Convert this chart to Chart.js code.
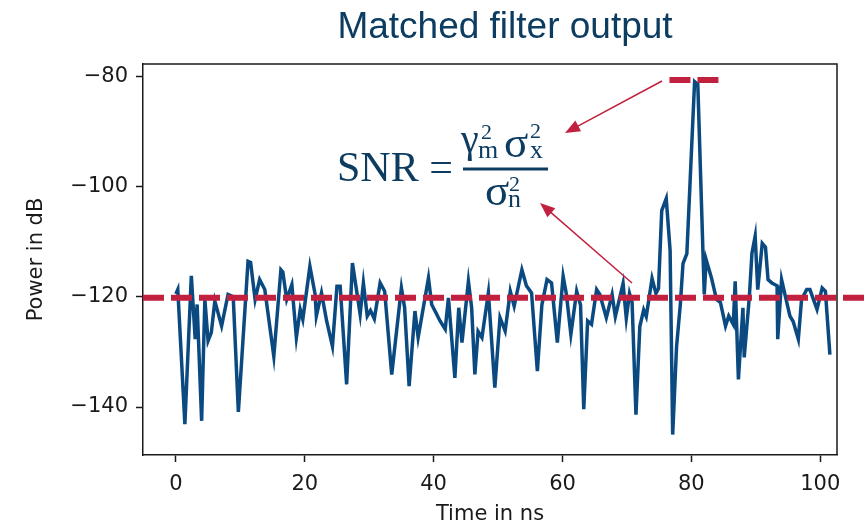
<!DOCTYPE html>
<html>
<head>
<meta charset="utf-8">
<script src="https://cdn.jsdelivr.net/npm/chart.js@4"></script>
<style>
html, body { margin: 0; padding: 0; background: #fff; }
#wrap { width: 867px; height: 527px; position: relative; }
</style>
</head>
<body>
<div id="wrap"><canvas id="chart"></canvas></div>
<script>
// matched filter output (time in ns, power in dB)
const times = [
    0.0, 0.3, 1.4, 2.4, 3.0, 3.3, 4.0, 4.5, 5.0, 5.5, 6.05, 7.1, 8.1, 8.9, 9.7,
    11.2, 11.6, 12.3, 13.0, 13.8, 15.2, 16.3, 16.6, 17.2, 18.0, 18.7, 19.3, 19.7, 20.8,
    21.6, 21.8, 22.6, 23.4, 24.3, 25.0, 25.5, 26.5, 27.4, 28.6, 29.1, 29.7, 30.2, 30.8,
    31.7, 32.4, 33.5, 35.0, 35.5, 36.2, 37.1, 37.6, 39.2, 39.7, 40.4, 41.0, 41.8, 42.3,
    43.3, 43.9, 44.4, 45.4, 45.9, 46.4, 46.9, 47.5, 48.5, 49.5, 50.3, 51.1, 51.9, 52.5,
    53.7, 54.4, 55.2, 56.1, 56.8, 57.6, 58.3, 59.2, 60.1, 60.6, 61.3, 62.2, 62.8, 63.3,
    63.9, 64.5, 65.3, 65.8, 66.8, 67.7, 68.2, 69.4, 69.9, 70.4, 70.8, 71.4, 72.0, 72.6,
    73.0, 73.9, 74.5, 74.9, 75.4, 76.1, 76.7, 77.1, 77.7, 78.3, 78.7, 79.3, 80.5, 81.0,
    82.0, 82.3, 83.1, 83.9, 84.5, 85.3, 85.8, 86.5, 86.8, 87.3, 88.0, 88.2, 89.0, 89.4,
    89.9, 90.3, 91.0, 91.5, 91.9, 92.5, 93.3, 93.4, 94.0, 94.5, 95.3, 95.8, 96.6, 97.1,
    97.9, 98.4, 99.5, 100.3, 100.8, 101.5
];
const power = [
    -119.5, -118.7, -143.1, -116.2, -127.7, -121.4, -142.5, -120.5, -128.0, -126.5, -120.8, -125.3, -119.6, -120.0, -140.9,
    -113.6, -113.8, -120.5, -116.9, -118.7, -130.8, -115.1, -115.5, -120.5, -117.8, -127.4, -122.3, -124.1, -114.5,
    -119.5, -123.5, -119.3, -124.4, -129.0, -118.1, -118.1, -135.9, -113.9, -123.2, -117.5, -123.5, -122.5, -124.0,
    -117.5, -119.0, -134.1, -118.4, -122.0, -136.2, -122.6, -127.4, -116.6, -121.4, -123.0, -124.4, -125.9, -120.2,
    -134.7, -122.0, -128.3, -117.2, -122.0, -134.1, -126.3, -127.4, -119.3, -136.5, -123.8, -126.2, -119.0, -121.7,
    -115.1, -118.0, -119.3, -133.5, -121.5, -116.9, -117.5, -128.3, -116.3, -119.5, -126.8, -119.0, -121.5, -140.4,
    -124.4, -125.0, -118.7, -119.6, -123.8, -119.6, -123.6, -117.6, -123.9, -119.4, -121.0, -141.4, -125.4, -122.4,
    -123.6, -116.7, -119.4, -118.5, -104.4, -102.2, -111.6, -145.0, -129.1, -121.2, -114.0, -112.2, -81.0, -81.5,
    -119.6, -113.3, -116.5, -120.5, -121.0, -125.3, -123.5, -125.0, -117.2, -135.0, -122.0, -131.0, -120.0, -112.1,
    -109.0, -118.7, -110.3, -111.0, -116.9, -117.5, -118.0, -127.7, -116.9, -119.5, -123.5, -124.5, -127.7, -120.5,
    -118.7, -118.7, -122.3, -118.4, -119.0, -130.5
];
const xTicks = [0, 20, 40, 60, 80, 100];
const yTicks = [-80, -100, -120, -140];
const noiseLevel = -120.2;   // long red dashed line
const peakLevel = -80.7;     // short red dashed line at the peak
const peakSpan = [76.6, 84.2];

const red = '#c2203f';
const navy = '#0d3c61';

function minusLabel(v) {
    return v < 0 ? '\u2212' + Math.abs(v) : String(v);
}

const overlay = {
    id: 'overlay',
    afterDraw(chart) {
        const ctx = chart.ctx;
        const area = chart.chartArea;
        const xs = chart.scales.x, ys = chart.scales.y;
        ctx.save();

        // top and right frame
        ctx.strokeStyle = '#1a1a1a';
        ctx.lineWidth = 1.5;
        ctx.beginPath();
        ctx.moveTo(area.left, area.top);
        ctx.lineTo(area.right, area.top);
        ctx.lineTo(area.right, area.bottom);
        ctx.stroke();

        // red dashed levels
        ctx.strokeStyle = red;
        ctx.lineWidth = 6;
        ctx.setLineDash([21, 7]);
        let y = ys.getPixelForValue(noiseLevel);
        ctx.beginPath();
        ctx.moveTo(area.left, y);
        ctx.lineTo(chart.width, y);
        ctx.stroke();
        y = ys.getPixelForValue(peakLevel);
        ctx.beginPath();
        ctx.moveTo(xs.getPixelForValue(peakSpan[0]), y);
        ctx.lineTo(xs.getPixelForValue(peakSpan[1]), y);
        ctx.stroke();
        ctx.setLineDash([]);

        // arrows
        drawArrow(ctx, 662, 81, 565, 133);
        drawArrow(ctx, 632, 283, 540, 203);

        // title
        ctx.fillStyle = navy;
        ctx.textAlign = 'center';
        ctx.textBaseline = 'alphabetic';
        ctx.font = '37px "Liberation Sans", Arial, sans-serif';
        ctx.fillText('Matched filter output', 505, 38);

        // SNR formula
        const letters = '26px "Liberation Serif", serif';
        const digits = '22px "Liberation Serif", serif';
        ctx.textAlign = 'left';
        ctx.font = '42px "Liberation Serif", serif';
        ctx.fillText('SNR =', 337, 181);
        ctx.strokeStyle = navy;
        ctx.lineWidth = 3;
        ctx.beginPath();
        ctx.moveTo(463, 169);
        ctx.lineTo(548, 169);
        ctx.stroke();
        ctx.font = '40px "Liberation Serif", serif';
        ctx.fillText('\u03b3', 461, 152);
        ctx.font = '45px "Liberation Serif", serif';
        ctx.fillText('\u03c3', 504, 157);
        ctx.fillText('\u03c3', 485, 205);
        ctx.font = digits;
        ctx.fillText('2', 481, 139);
        ctx.fillText('2', 530, 138);
        ctx.fillText('2', 509, 191);
        ctx.font = letters;
        ctx.fillText('m', 478, 158);
        ctx.fillText('x', 530, 158);
        ctx.fillText('n', 508, 207);
        ctx.restore();
    }
};

function drawArrow(ctx, x1, y1, x2, y2) {
    const ang = Math.atan2(y2 - y1, x2 - x1);
    const len = 15, half = 6;
    ctx.strokeStyle = red;
    ctx.fillStyle = red;
    ctx.lineWidth = 1.5;
    ctx.beginPath();
    ctx.moveTo(x1, y1);
    ctx.lineTo(x2 - Math.cos(ang) * len * 0.8, y2 - Math.sin(ang) * len * 0.8);
    ctx.stroke();
    ctx.beginPath();
    ctx.moveTo(x2, y2);
    ctx.lineTo(x2 - Math.cos(ang) * len + Math.sin(ang) * half, y2 - Math.sin(ang) * len - Math.cos(ang) * half);
    ctx.lineTo(x2 - Math.cos(ang) * len - Math.sin(ang) * half, y2 - Math.sin(ang) * len + Math.cos(ang) * half);
    ctx.closePath();
    ctx.fill();
}

const tickFont = { family: '"DejaVu Sans", sans-serif', size: 21 };

new Chart(document.getElementById('chart'), {
    type: 'line',
    data: {
        datasets: [{
            data: times.map((t, i) => ({ x: t, y: power[i] })),
            borderColor: '#0b4a80',
            borderWidth: 3.5,
            pointRadius: 0,
            tension: 0,
            fill: false
        }]
    },
    options: {
        responsive: true,
        maintainAspectRatio: false,
        animation: false,
        layout: { padding: { top: 64, right: 30, left: 0, bottom: 0 } },
        plugins: {
            legend: { display: false },
            tooltip: { enabled: false },
            title: { display: false }
        },
        scales: {
            x: {
                type: 'linear',
                min: -5.1,
                max: 102.6,
                afterBuildTicks: axis => { axis.ticks = xTicks.map(v => ({ value: v })); },
                afterFit: axis => { axis.height = 72; },
                grid: { drawOnChartArea: false, drawTicks: true, tickLength: 7, tickWidth: 1.5, color: '#1a1a1a' },
                border: { display: true, color: '#1a1a1a', width: 1.5 },
                ticks: { color: '#1a1a1a', font: tickFont, padding: 10, maxRotation: 0, callback: v => minusLabel(v) },
                title: { display: true, text: 'Time in ns', color: '#1a1a1a', font: tickFont, padding: { top: 0, bottom: 0 } }
            },
            y: {
                min: -148.7,
                max: -77.8,
                afterBuildTicks: axis => { axis.ticks = yTicks.map(v => ({ value: v })); },
                afterFit: axis => { axis.width = 143; },
                grid: { drawOnChartArea: false, drawTicks: true, tickLength: 7, tickWidth: 1.5, color: '#1a1a1a' },
                border: { display: true, color: '#1a1a1a', width: 1.5 },
                ticks: { color: '#1a1a1a', font: tickFont, padding: 8, callback: v => minusLabel(v) },
                title: { display: true, text: 'Power in dB', color: '#1a1a1a', font: tickFont, padding: { top: 24, bottom: 0 } }
            }
        }
    },
    plugins: [overlay]
});
</script>
</body>
</html>
